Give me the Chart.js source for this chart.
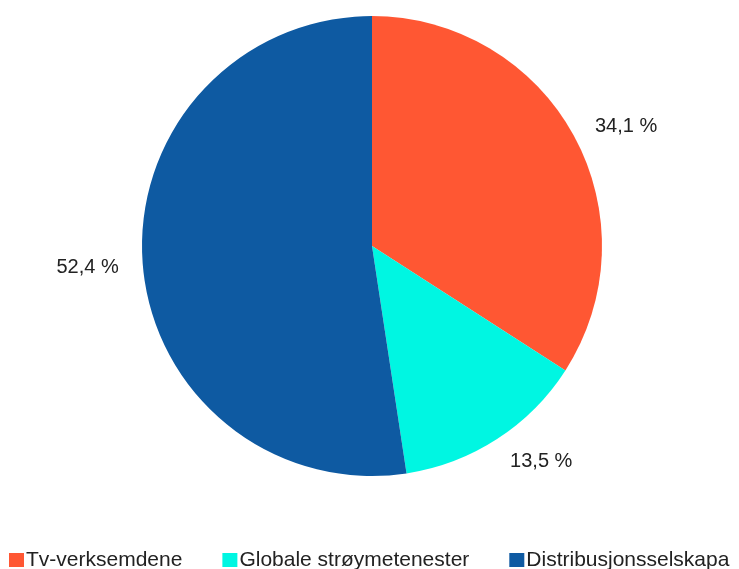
<!DOCTYPE html>
<html>
<head>
<meta charset="utf-8">
<script src="https://cdn.jsdelivr.net/npm/chart.js@4"></script>
<style>
html,body{margin:0;padding:0;background:#fff;}
#wrap{width:739px;height:569px;position:relative;}
</style>
</head>
<body>
<div id="wrap"><canvas id="c" width="739" height="569"></canvas></div>
<script>
const categories = ["Tv-verksemdene", "Globale strøymetenester", "Distribusjonsselskapa"];
const shares = [34.1, 13.5, 52.4];
const sliceColors = ["#FF5733", "#00F6E2", "#0E5AA2"];
const valueLabels = ["34,1 %", "13,5 %", "52,4 %"];

const FONT = "'Liberation Sans', Arial, sans-serif";

const outsideLabels = {
  id: 'outsideLabels',
  afterDatasetsDraw(chart) {
    const ctx = chart.ctx;
    const meta = chart.getDatasetMeta(0);
    ctx.save();
    ctx.font = "20px " + FONT;
    ctx.fillStyle = "#222";
    ctx.textBaseline = "middle";
    meta.data.forEach((arc, i) => {
      const p = arc.getProps(['x','y','startAngle','endAngle','outerRadius'], true);
      const mid = (p.startAngle + p.endAngle) / 2;
      const d = p.outerRadius + 24;
      const c = Math.cos(mid);
      ctx.textAlign = c >= 0 ? "left" : "right";
      ctx.fillText(valueLabels[i], p.x + c * d, p.y + Math.sin(mid) * d + 2);
    });
    ctx.restore();
  }
};

const bottomLegend = {
  id: 'bottomLegend',
  afterDraw(chart) {
    const ctx = chart.ctx;
    ctx.save();
    ctx.font = "21px " + FONT;
    const box = 15, gapText = 2, gapItem = 40;
    const widths = categories.map(t => ctx.measureText(t).width);
    let total = 0;
    widths.forEach((w, i) => { total += box + gapText + w + (i < widths.length - 1 ? gapItem : 0); });
    let x = Math.round((chart.width - total) / 2);
    const yMid = 560;
    ctx.textBaseline = "middle";
    ctx.textAlign = "left";
    categories.forEach((t, i) => {
      ctx.fillStyle = sliceColors[i];
      ctx.fillRect(x, yMid - 7, box, 14);
      ctx.fillStyle = "#222";
      ctx.fillText(t, x + box + gapText, yMid);
      x += box + gapText + widths[i] + gapItem;
    });
    ctx.restore();
  }
};

new Chart(document.getElementById('c'), {
  type: 'pie',
  data: {
    labels: categories,
    datasets: [{
      data: shares,
      backgroundColor: sliceColors,
      borderWidth: 0
    }]
  },
  options: {
    responsive: false,
    animation: false,
    layout: { padding: { top: 16, bottom: 93, left: 142, right: 137 } },
    plugins: {
      legend: { display: false },
      tooltip: { enabled: false }
    }
  },
  plugins: [outsideLabels, bottomLegend]
});
</script>
</body>
</html>
